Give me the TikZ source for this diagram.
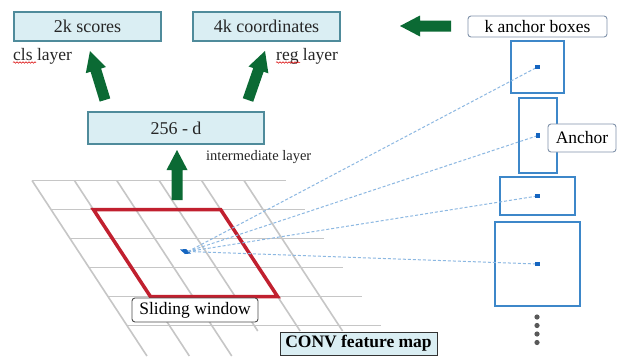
\documentclass[tikz,border=0pt]{standalone}
\usepackage{fontspec}
\setmainfont{Liberation Serif}
\usetikzlibrary{calc,decorations.pathmorphing}
\definecolor{boxfill}{HTML}{DAEEF3}
\definecolor{boxline}{HTML}{4F8B9B}
\definecolor{arrowgreen}{HTML}{0B6A34}
\definecolor{gridgray}{HTML}{C6C6C6}
\definecolor{winred}{HTML}{C1202F}
\definecolor{anchorblue}{HTML}{3D87C9}
\definecolor{dashblue}{HTML}{8CB8E2}
\definecolor{dotblue}{HTML}{1565C0}
\definecolor{labelline}{HTML}{8193AA}
\definecolor{textdark}{HTML}{262626}
\newcommand\blockarrow[2]{%
  \coordinate (#1h) at ($(#2)!20pt!(#1)$);
  \fill[arrowgreen] ($(#1)!5.5pt!90:(#2)$) -- ($(#1h)!5.5pt!90:(#2)$) -- ($(#1h)!10.5pt!90:(#2)$) -- (#2)
    -- ($(#1h)!10.5pt!-90:(#2)$) -- ($(#1h)!5.5pt!-90:(#2)$) -- ($(#1)!5.5pt!-90:(#2)$) -- cycle;}
\begin{document}
\begin{tikzpicture}[x=1pt,y=-1pt,
  layerbox/.style={draw=boxline, line width=1.8pt, fill=boxfill, inner sep=0pt,
    font=\fontsize{18}{20}\selectfont, text=textdark},
  caption/.style={inner sep=0pt, font=\fontsize{17.5}{19}\selectfont, text=textdark},
  tag/.style={draw=labelline, line width=0.9pt, fill=white, rounded corners=3pt, inner sep=0pt,
    font=\fontsize{17.5}{19}\selectfont, text=black},
  anchorbox/.style={draw=anchorblue, line width=1.6pt, inner sep=0pt},
  gridline/.style={draw=gridgray, line width=1.6pt},
  dashline/.style={draw=dashblue, line width=1pt, dash pattern=on 3pt off 2pt},
  squiggle/.style={draw=red!85!black, line width=0.5pt, decorate,
    decoration={snake, amplitude=0.8pt, segment length=3pt}},
]
\useasboundingbox (0,0) rectangle (618,356);
\fill[white] (0,0) rectangle (618,356);

% feature-map grid
\foreach \k in {0,...,5}
  \draw[gridline] ({32+19*\k},{180.5+29*\k}) -- ({286+19*\k},{180.5+29*\k});
\foreach \j/\e in {0/356,1/356,2/356,3/331,4/331,5/331}
  \draw[gridline] ({32+42.4*\j},180.5) -- ({32+42.4*\j+0.655*(\e-180.5)},\e);

% sliding window
\draw[winred, line width=3.5pt, line join=miter] (93.4,209.5) -- (220.6,209.5) -- (277.6,296.5) -- (150.4,296.5) -- cycle;

% layer boxes
\node[layerbox, minimum width=147pt, minimum height=29pt] (scores) at (87.5,26.5) {2k scores};
\node[layerbox, minimum width=147pt, minimum height=29pt] (coords) at (266.5,26.5) {4k coordinates};
\node[layerbox, minimum width=176pt, minimum height=32pt] (inter) at (176,128) {256 - d};

\node[caption, anchor=base west] (cls) at (13,60) {cls layer};
\node[caption, anchor=base west] (reg) at (276,60) {reg layer};
\node[inner sep=0pt, anchor=base west, font=\fontsize{14.5}{16}\selectfont, text=textdark] (interlbl) at (206,160) {intermediate layer};
\draw[squiggle] (13,62.5) -- (36,62.5);
\draw[squiggle] (276,62.5) -- (300,62.5);

% green block arrows
\coordinate (clsT) at (105,100);  \coordinate (clsH) at (90,51);
\coordinate (regT) at (248,100);  \coordinate (regH) at (265,51);
\coordinate (midT) at (177,200);  \coordinate (midH) at (177,150);
\coordinate (kT) at (451,26);     \coordinate (kH) at (400,26);
\blockarrow{clsT}{clsH}
\blockarrow{regT}{regH}
\blockarrow{midT}{midH}
\blockarrow{kT}{kH}

% anchor boxes
\node[anchorbox, minimum width=53pt, minimum height=52pt] (a1) at (537.5,67) {};
\node[anchorbox, minimum width=38pt, minimum height=75pt] (a2) at (538,135.5) {};
\node[anchorbox, minimum width=75pt, minimum height=38pt] (a3) at (537.5,196) {};
\node[anchorbox, minimum width=85pt, minimum height=84pt] (a4) at (537.5,264) {};

% centre of window and dashed rays
\fill[dotblue] (180,249.5) -- (186,249) -- (191,253.5) -- (185,254) -- cycle;
\coordinate (c) at (188,251.5);
\foreach \a in {a1,a2,a3,a4} {
  \draw[dashline] (c) -- (\a.center);
  \fill[dotblue] ($(\a.center)+(-2.2,-2.2)$) rectangle ($(\a.center)+(2.2,2.2)$);
}

% ellipsis dots
\foreach \y in {317,325.5,334,342.5}
  \fill[black!65] (537,\y) circle (2.6pt);

% labels
\node[tag, minimum width=139pt, minimum height=21pt] (kab) at (537.5,26.5) {k anchor boxes};
\node[tag, minimum width=68pt, minimum height=28pt] (anc) at (582,138) {Anchor};
\node[tag, draw=black!70, minimum width=126pt, minimum height=24pt] (slw) at (195,310) {Sliding window};
\node[draw=black!80, line width=0.9pt, fill=boxfill, inner sep=0pt, minimum width=157pt, minimum height=23pt,
  font=\bfseries\fontsize{17.5}{19}\selectfont, text=black] (conv) at (358.5,343.5) {CONV feature map};
\end{tikzpicture}
\end{document}
